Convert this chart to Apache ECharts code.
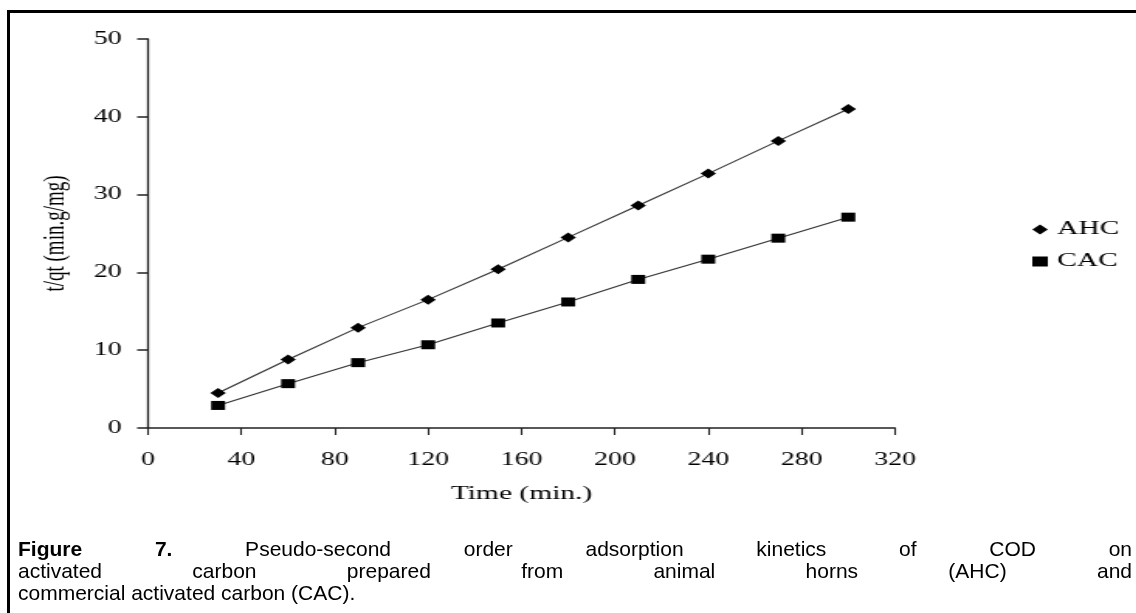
<!DOCTYPE html>
<html>
<head>
<meta charset="utf-8">
<title>Figure 7</title>
<script src="https://cdn.jsdelivr.net/npm/echarts@6/dist/echarts.min.js"></script>
<style>
	html,body{margin:0;padding:0;background:#fff;}
	#wrap{position:relative;width:1136px;height:613px;overflow:hidden;}
	#frame{position:absolute;left:7px;top:10px;right:-10px;bottom:-10px;border-top:3px solid #000;border-left:3px solid #000;}
	/* the figure in the source is stretched sideways, so the chart is drawn narrow and widened */
	#chart{position:absolute;left:0;top:0;width:733px;height:613px;transform:scaleX(1.55);transform-origin:0 0;}
	#caption{position:absolute;left:18px;top:538px;width:1114px;font-family:"Liberation Sans",Arial,sans-serif;font-size:21px;line-height:22px;color:#000;}
	#caption div{text-align:justify;text-align-last:justify;}
	#caption div.last{text-align:left;text-align-last:left;}
</style>
</head>
<body>
<div id="wrap">
	<div id="frame"></div>
	<div id="chart"></div>
	<div id="caption">
		<div><b>Figure 7.</b> Pseudo-second order adsorption kinetics of COD on</div>
		<div>activated carbon prepared from animal horns (AHC) and</div>
		<div class="last">commercial activated carbon (CAC).</div>
	</div>
</div>
<script>
// 时间 (min)
var times = [30, 60, 90, 120, 150, 180, 210, 240, 270, 300];
// t/qt 数据
var ahc = [4.5, 8.8, 12.9, 16.5, 20.4, 24.5, 28.6, 32.7, 36.9, 41.0];
var cac = [2.9, 5.7, 8.4, 10.7, 13.5, 16.2, 19.1, 21.7, 24.4, 27.1];
var seriesNames = ['AHC', 'CAC'];

function pairs(xs, ys){
	var out = [];
	for (var i = 0; i < xs.length; i++) {
		out.push([xs[i], ys[i]]);
	}
	return out;
}

var serif = '"Liberation Serif","Times New Roman",serif';
var myChart = echarts.init(document.getElementById('chart'), null, {renderer:'canvas'});

var option = {
	animation: false,
	backgroundColor: 'transparent',
	grid: {left:95.5, right:155.6, top:39, bottom:185, containLabel:false},
	legend: {
		orient: 'vertical',
		left: 666,
		top: 220,
		padding: 0,
		itemGap: 13,
		itemWidth: 10,
		itemHeight: 10,
		data: [
			{name:'AHC', icon:'diamond'},
			{name:'CAC', icon:'rect'}
		],
		textStyle: {fontFamily:serif, fontSize:19, color:'#000', padding:[0,0,0,1]}
	},
	xAxis: {
		type: 'value',
		min: 0,
		max: 320,
		interval: 40,
		name: 'Time (min.)',
		nameLocation: 'middle',
		nameGap: 57,
		nameTextStyle: {fontFamily:serif, fontSize:19, color:'#000'},
		axisLine: {lineStyle:{color:'#222', width:1.5}},
		axisTick: {inside:false, length:7, lineStyle:{color:'#222', width:1.1}},
		axisLabel: {margin:23, fontFamily:serif, fontSize:18, color:'#000'},
		splitLine: {show:false}
	},
	yAxis: {
		type: 'value',
		min: 0,
		max: 50,
		interval: 10,
		name: 't/qt (min.g/mg)',
		nameLocation: 'middle',
		nameGap: 50,
		nameTextStyle: {fontFamily:serif, fontSize:19, color:'#000'},
		axisLine: {show:true, lineStyle:{color:'#222', width:1.3}},
		axisTick: {show:true, inside:false, length:7, lineStyle:{color:'#222', width:1.5}},
		axisLabel: {margin:17, fontFamily:serif, fontSize:18, color:'#000'},
		splitLine: {show:false}
	},
	series: [
		{
			name: seriesNames[0],
			type: 'line',
			data: pairs(times, ahc),
			symbol: 'diamond',
			symbolSize: [10, 10],
			itemStyle: {color:'#000'},
			lineStyle: {color:'#333', width:1.1}
		},
		{
			name: seriesNames[1],
			type: 'line',
			data: pairs(times, cac),
			symbol: 'rect',
			symbolSize: [9, 9],
			itemStyle: {color:'#000'},
			lineStyle: {color:'#333', width:1.1}
		}
	]
};
myChart.setOption(option);
</script>
</body>
</html>
